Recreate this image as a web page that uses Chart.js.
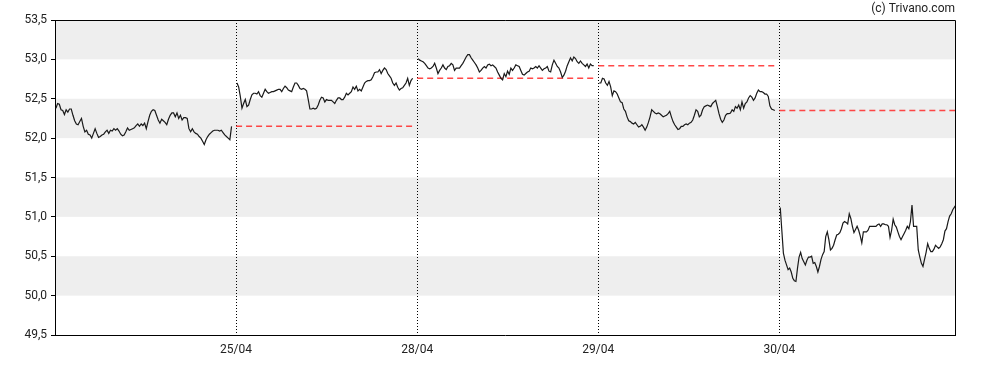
<!DOCTYPE html>
<html>
<head>
<meta charset="utf-8">
<script src="https://cdn.jsdelivr.net/npm/chart.js@4.4.1/dist/chart.umd.min.js"></script>
<style>
  body { margin: 0; background: #fff; }
</style>
</head>
<body>
<canvas id="priceChart" width="988" height="370"></canvas>
<script>
// intraday prices, one array per session
const day1Prices = [52.38,52.44,52.43,52.36,52.35,52.30,52.36,52.33,52.37,52.37,52.29,52.22,52.18,52.17,52.21,52.25,52.15,52.08,52.10,52.05,52.04,52.00,52.06,52.12,52.06,52.01,52.02,52.04,52.05,52.08,52.10,52.06,52.10,52.09,52.12,52.10,52.12,52.09,52.05,52.03,52.04,52.08,52.13,52.10,52.11,52.12,52.13,52.16,52.18,52.15,52.18,52.16,52.19,52.12,52.21,52.29,52.34,52.36,52.35,52.29,52.23,52.19,52.24,52.22,52.20,52.17,52.24,52.29,52.32,52.32,52.27,52.32,52.25,52.29,52.23,52.26,52.26,52.25,52.12,52.08,52.12,52.08,52.06,52.05,52.02,52.00,51.96,51.92,51.98,52.02,52.05,52.07,52.09,52.10,52.10,52.10,52.09,52.10,52.07,52.04,52.02,52.00,51.98,52.15]
const day2Prices = [52.70,52.65,52.53,52.38,52.44,52.49,52.40,52.42,52.49,52.55,52.57,52.57,52.56,52.59,52.54,52.52,52.57,52.62,52.59,52.57,52.58,52.59,52.59,52.60,52.61,52.62,52.62,52.59,52.63,52.66,52.64,52.61,52.60,52.59,52.65,52.70,52.70,52.67,52.63,52.62,52.63,52.62,52.60,52.49,52.37,52.37,52.38,52.37,52.38,52.42,52.48,52.52,52.51,52.46,52.49,52.48,52.48,52.48,52.46,52.44,52.48,52.51,52.51,52.49,52.49,52.52,52.57,52.55,52.57,52.59,52.65,52.62,52.66,52.60,52.62,52.60,52.65,52.70,52.72,52.73,52.73,52.74,52.78,52.83,52.84,52.84,52.87,52.82,52.86,52.89,52.87,52.82,52.79,52.76,52.70,52.67,52.70,52.645,52.61,52.63,52.64,52.67,52.70,52.76,52.67,52.73,52.76]
const day3Prices = [53.01,52.99,52.98,52.97,52.95,52.92,52.89,52.88,52.89,52.91,52.95,52.89,52.82,52.86,52.89,52.93,52.89,52.87,52.91,52.92,52.95,52.93,52.86,52.89,52.89,52.89,52.92,52.95,52.99,53.03,53.06,53.06,53.02,52.99,52.96,52.93,52.89,52.84,52.86,52.89,52.91,52.89,52.93,52.94,52.92,52.93,52.91,52.89,52.84,52.80,52.76,52.74,52.82,52.78,52.85,52.81,52.89,52.86,52.89,52.93,52.92,52.91,52.86,52.81,52.80,52.82,52.84,52.85,52.89,52.88,52.89,52.91,52.89,52.92,52.89,52.86,52.88,52.89,52.91,52.85,52.84,52.93,52.99,52.95,52.91,52.89,52.84,52.77,52.80,52.85,52.92,52.97,53.02,52.98,53.03,53.01,52.97,52.95,52.98,52.95,52.93,52.91,52.94,52.89,52.94,52.92,52.92]
const day4Prices = [52.70,52.70,52.76,52.75,52.70,52.67,52.72,52.65,52.54,52.60,52.59,52.56,52.51,52.46,52.45,52.37,52.34,52.27,52.22,52.21,52.19,52.18,52.20,52.17,52.14,52.15,52.17,52.14,52.10,52.14,52.20,52.27,52.36,52.34,52.32,52.31,52.32,52.31,52.29,52.27,52.28,52.29,52.31,52.34,52.27,52.21,52.17,52.14,52.11,52.12,52.15,52.15,52.17,52.18,52.17,52.19,52.20,52.23,52.29,52.36,52.34,52.27,52.29,52.36,52.40,52.41,52.42,52.41,52.40,52.44,52.46,52.48,52.40,52.31,52.24,52.20,52.23,52.29,52.31,52.31,52.32,52.36,52.34,52.40,52.38,52.42,52.36,52.46,52.38,52.44,52.46,52.51,52.54,52.52,52.48,52.51,52.57,52.61,52.59,52.59,52.58,52.56,52.56,52.53,52.41,52.37,52.36,52.35]
const day5Prices = [51.12,50.83,50.54,50.45,50.39,50.33,50.35,50.30,50.22,50.19,50.18,50.35,50.49,50.55,50.47,50.43,50.39,50.45,50.49,50.49,50.50,50.41,50.42,50.37,50.30,50.37,50.46,50.52,50.56,50.75,50.81,50.71,50.58,50.60,50.64,50.71,50.77,50.78,50.80,50.85,50.92,50.94,50.93,50.91,51.04,50.98,50.88,50.80,50.84,50.88,50.83,50.76,50.67,50.81,50.81,50.81,50.83,50.88,50.88,50.88,50.88,50.88,50.90,50.91,50.88,50.91,50.91,50.90,50.90,50.88,50.74,50.83,50.97,50.90,50.87,50.81,50.75,50.71,50.75,50.79,50.83,50.88,50.85,50.94,51.15,50.88,50.88,50.88,50.58,50.49,50.41,50.37,50.46,50.55,50.66,50.60,50.56,50.56,50.59,50.64,50.62,50.60,50.62,50.66,50.71,50.82,50.85,50.94,51.01,51.04,51.09,51.12,51.15]

// previous close shown as red dashed line on sessions 2..5
const prevClose = [52.15, 52.76, 52.92, 52.35]

// labels of session starts (sessions 2..5)
const dayLabels = ['25/04', '28/04', '29/04', '30/04']

const yTicks = [49.5, 50.0, 50.5, 51.0, 51.5, 52.0, 52.5, 53.0, 53.5]

const sessionStart = 0.005
const sessionEnd = 0.975

function build_price_points() {
  const days = [day1Prices, day2Prices, day3Prices, day4Prices, day5Prices]
  const points = []
  days.forEach(function(prices, d) {
    const step = (sessionEnd - sessionStart) / (prices.length - 1)
    prices.forEach(function(p, i) {
      points.push({ x: d + sessionStart + i * step, y: p })
    })
    points.push({ x: d + 0.99, y: null })
  })
  return points
}

function build_close_datasets() {
  return prevClose.map(function(v, i) {
    return {
      data: [{ x: i + 1, y: v }, { x: i + 1 + sessionEnd, y: v }],
      borderColor: 'rgba(255, 40, 40, 0.85)',
      borderWidth: 1.5,
      borderDash: [6, 4],
      pointRadius: 0,
      fill: false
    }
  })
}

const bandsPlugin = {
  id: 'bands',
  beforeDraw(chart) {
    const { ctx, chartArea, scales } = chart
    const y = scales.y
    ctx.save()
    ctx.fillStyle = '#eeeeee'
    yTicks.forEach(function(v) {
      if (Number.isInteger(v) && v < y.max) {
        const top = y.getPixelForValue(v + 0.5)
        const bottom = y.getPixelForValue(v)
        ctx.fillRect(chartArea.left, top, chartArea.right - chartArea.left, bottom - top)
      }
    })
    ctx.restore()
  }
}

const framePlugin = {
  id: 'frame',
  afterDraw(chart) {
    const { ctx, chartArea } = chart
    ctx.save()
    ctx.strokeStyle = '#000'
    ctx.lineWidth = 1
    ctx.beginPath()
    ctx.moveTo(chartArea.left, chartArea.top + 0.5)
    ctx.lineTo(chartArea.right + 0.5, chartArea.top + 0.5)
    ctx.lineTo(chartArea.right + 0.5, chartArea.bottom)
    ctx.stroke()
    ctx.restore()
  }
}

function activate_chart() {
  const ctx = document.getElementById('priceChart').getContext('2d')
  Chart.defaults.font.family = 'Roboto'
  Chart.defaults.font.size = 12
  Chart.defaults.color = '#222'

  const chart = new Chart(ctx, {
    type: 'line',
    data: {
      datasets: [
        {
          data: build_price_points(),
          borderColor: '#1a1a1a',
          borderWidth: 1.2,
          pointRadius: 0,
          tension: 0,
          spanGaps: false,
          fill: false
        }
      ].concat(build_close_datasets())
    },
    options: {
      responsive: false,
      animation: false,
      devicePixelRatio: 1,
      layout: {
        padding: { left: 0, right: 33, top: 0, bottom: 0 }
      },
      scales: {
        x: {
          type: 'linear',
          min: 0,
          max: 4.97,
          afterBuildTicks: function(scale) {
            scale.ticks = dayLabels.map(function(_, i) { return { value: i + 1 } })
          },
          afterFit: function(scale) {
            scale.height = 35
          },
          ticks: {
            padding: 8,
            maxRotation: 0,
            autoSkip: false,
            callback: function(value, index) { return dayLabels[index] }
          },
          grid: {
            color: '#000',
            lineWidth: 1,
            drawTicks: false
          },
          border: {
            display: true,
            color: '#000',
            width: 1,
            dash: [1, 2]
          }
        },
        y: {
          min: 49.5,
          max: 53.5,
          afterBuildTicks: function(scale) {
            scale.ticks = yTicks.map(function(v) { return { value: v } })
          },
          afterFit: function(scale) {
            scale.width = 55
          },
          ticks: {
            padding: 4,
            callback: function(value) { return value.toFixed(1).replace('.', ',') }
          },
          grid: {
            drawOnChartArea: false,
            drawTicks: true,
            tickLength: 4,
            color: '#000'
          },
          border: {
            display: true,
            color: '#000',
            width: 1
          }
        }
      },
      plugins: {
        legend: { display: false },
        tooltip: { enabled: false },
        title: {
          display: true,
          text: '(c) Trivano.com',
          align: 'end',
          color: '#222',
          font: { size: 12, weight: 'normal', lineHeight: 1.2 },
          padding: { top: 2, bottom: 3.6 }
        }
      }
    },
    plugins: [bandsPlugin, framePlugin]
  })
}

activate_chart()
</script>
</body>
</html>
